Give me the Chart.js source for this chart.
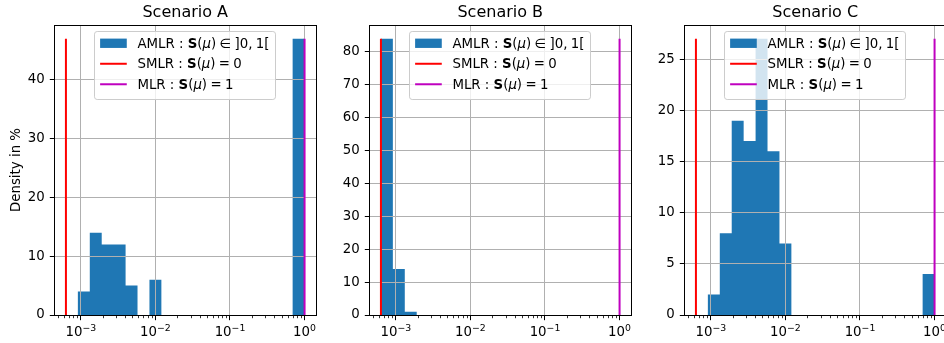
<!DOCTYPE html>
<html><head><meta charset="utf-8">
<script src="https://cdn.jsdelivr.net/npm/chart.js@4.4.1/dist/chart.umd.min.js"></script>
<style>
html,body{margin:0;padding:0;background:#fff;width:944px;height:343px;overflow:hidden;position:relative}
canvas{position:absolute;top:0}
</style></head><body>
<canvas id="cA" width="320" height="343" style="left:0px"></canvas>
<canvas id="cB" width="320" height="343" style="left:315px"></canvas>
<canvas id="cC" width="320" height="343" style="left:630px"></canvas>
<script>
// ---------- data ----------
const scenarioTitles = ['Scenario A', 'Scenario B', 'Scenario C'];
// log-spaced histogram bin edges (21 edges, 20 bins)
const binEdges = [6.310e-4, 9.120e-4, 1.318e-3, 1.905e-3, 2.754e-3, 3.981e-3, 5.754e-3, 8.318e-3,
  1.202e-2, 1.738e-2, 2.512e-2, 3.631e-2, 5.248e-2, 7.586e-2, 0.1096, 0.1585, 0.2291, 0.3311,
  0.4786, 0.6918, 1.0];
// density in % per bin
const densityA = [0, 4, 14, 12, 12, 5, 0, 6, 0, 0, 0, 0, 0, 0, 0, 0, 0, 0, 0, 47];
const densityB = [84, 14, 1, 0, 0, 0, 0, 0, 0, 0, 0, 0, 0, 0, 0, 0, 0, 0, 0, 0];
const densityC = [0, 2, 8, 19, 17, 27, 16, 7, 0, 0, 0, 0, 0, 0, 0, 0, 0, 0, 0, 4];
const smlrValue = 6.310e-4;   // SMLR : S(mu) = 0
const mlrValue = 1;           // MLR  : S(mu) = 1
const yTickSteps = [10, 10, 5];
const yAxisLabel = 'Density in %';
const legendAMLR = [['AMLR : ', 'n'], ['S', 'b'], ['(', 'n'], ['μ', 'i'], [')', 'n'], ['\u2005∈\u2005', 'n'], [']0,\u20051[', 'n']];
const legendSMLR = [['SMLR : ', 'n'], ['S', 'b'], ['(', 'n'], ['μ', 'i'], [')', 'n'], ['\u2005=\u20050', 'n']];
const legendMLR  = [['MLR : ', 'n'], ['S', 'b'], ['(', 'n'], ['μ', 'i'], [')', 'n'], ['\u2005=\u20051', 'n']];

// ---------- style ----------
const FS = 13.33;
const FAMILY = '"DejaVu Sans", "Liberation Sans", sans-serif';
const C_BLUE = '#1f77b4', C_RED = '#ff0000', C_MAG = '#bf00bf';

function fontFor(s, size) {
  size = size || FS;
  if (s === 'b') return 'bold ' + size + 'px ' + FAMILY;
  if (s === 'i') return 'italic ' + size + 'px ' + FAMILY;
  return size + 'px ' + FAMILY;
}
function richWidth(ctx, segs) {
  let w = 0;
  for (const [t, s] of segs) { ctx.font = fontFor(s); w += ctx.measureText(t).width; }
  return w;
}
function drawRich(ctx, segs, x, y) {
  for (const [t, s] of segs) { ctx.font = fontFor(s); ctx.fillText(t, x, y); x += ctx.measureText(t).width; }
}
const snap = v => Math.round(v - 0.5) + 0.5;

function decadesOf(scale) {
  const out = [];
  for (let d = Math.ceil(Math.log10(scale.min) - 1e-9); d <= Math.floor(Math.log10(scale.max) + 1e-9); d++) out.push(d);
  return out;
}

const mplPlugin = {
  id: 'mpl',
  afterDatasetDraw(chart, args) {
    if (args.index !== 0) return; // grid above the histogram, below the lines
    const {ctx, chartArea: ca, scales: {x, y}} = chart;
    ctx.save();
    ctx.strokeStyle = '#b0b0b0';
    ctx.lineWidth = 1;
    ctx.beginPath();
    for (const d of decadesOf(x)) {
      const px = snap(x.getPixelForValue(Math.pow(10, d)));
      ctx.moveTo(px, ca.top); ctx.lineTo(px, ca.bottom);
    }
    for (const t of y.ticks) {
      const py = snap(y.getPixelForValue(t.value));
      ctx.moveTo(ca.left, py); ctx.lineTo(ca.right, py);
    }
    ctx.stroke();
    ctx.restore();
  },
  afterDraw(chart, args, opts) {
    const {ctx, chartArea: ca, scales: {x, y}} = chart;
    ctx.save();
    // frame (spines)
    ctx.strokeStyle = '#000';
    ctx.lineWidth = 1;
    const L = snap(ca.left), R = snap(ca.right), T = snap(ca.top), B = snap(ca.bottom);
    ctx.strokeRect(L, T, R - L, B - T);
    // x ticks (major + minor)
    const d0 = Math.floor(Math.log10(x.min)), d1 = Math.ceil(Math.log10(x.max));
    for (let d = d0; d <= d1; d++) {
      for (let m = 1; m <= 9; m++) {
        const v = m * Math.pow(10, d);
        if (v < x.min || v > x.max) continue;
        const px = snap(x.getPixelForValue(v));
        ctx.beginPath();
        ctx.lineWidth = m === 1 ? 1 : 0.8;
        ctx.moveTo(px, B); ctx.lineTo(px, B + (m === 1 ? 4.7 : 2.7));
        ctx.stroke();
      }
    }
    // y ticks
    ctx.lineWidth = 1;
    for (const t of y.ticks) {
      const py = snap(y.getPixelForValue(t.value));
      ctx.beginPath(); ctx.moveTo(L, py); ctx.lineTo(L - 4.7, py); ctx.stroke();
    }
    // x tick labels 10^d
    ctx.fillStyle = '#000';
    ctx.textBaseline = 'alphabetic';
    ctx.textAlign = 'left';
    const base = B + 20.5;
    for (const d of decadesOf(x)) {
      const px = x.getPixelForValue(Math.pow(10, d));
      const ex = d < 0 ? '\u2212' + (-d) : String(d);
      ctx.font = fontFor('n'); const w1 = ctx.measureText('10').width;
      ctx.font = fontFor('n', FS * 0.7); const w2 = ctx.measureText(ex).width;
      const x0 = px - (w1 + w2) / 2;
      ctx.font = fontFor('n'); ctx.fillText('10', x0, base);
      ctx.font = fontFor('n', FS * 0.7); ctx.fillText(ex, x0 + w1, base - 4.8);
    }
    // title
    ctx.font = '16px ' + FAMILY;
    ctx.textAlign = 'center';
    ctx.fillText(opts.title, (ca.left + ca.right) / 2, ca.top - 7.7);
    // y label
    if (opts.yLabel) {
      ctx.save();
      ctx.translate(19.8, (ca.top + ca.bottom) / 2);
      ctx.rotate(-Math.PI / 2);
      ctx.font = fontFor('n');
      ctx.textAlign = 'center';
      ctx.fillText(opts.yLabel, 0, 0);
      ctx.restore();
    }
    // legend (upper center)
    const rows = [
      {kind: 'patch', color: C_BLUE, label: legendAMLR},
      {kind: 'line', color: C_RED, label: legendSMLR},
      {kind: 'line', color: C_MAG, label: legendMLR}
    ];
    const pad = 0.4 * FS, hl = 2 * FS, htp = 0.8 * FS;
    const maxW = Math.max(...rows.map(r => richWidth(ctx, r.label)));
    const w = pad + hl + htp + maxW + pad + 1;
    const h = 67.6;
    const lx = (ca.left + ca.right) / 2 - w / 2;
    const ly = ca.top + 0.5 * FS;
    ctx.beginPath();
    const rx = snap(lx), ry = snap(ly), rw = Math.round(w), rh = Math.round(h);
    if (ctx.roundRect) ctx.roundRect(rx, ry, rw, rh, 2.7); else ctx.rect(rx, ry, rw, rh);
    ctx.fillStyle = 'rgba(255,255,255,0.8)';
    ctx.fill();
    ctx.strokeStyle = '#cccccc';
    ctx.lineWidth = 1;
    ctx.stroke();
    const centers = [11.6, 32.1, 52.6];
    rows.forEach((r, i) => {
      const cy = ly + centers[i];
      const hx = lx + pad;
      if (r.kind === 'patch') {
        ctx.fillStyle = r.color;
        ctx.fillRect(hx, cy - 0.35 * FS, hl, 0.7 * FS);
      } else {
        ctx.strokeStyle = r.color;
        ctx.lineWidth = 2;
        ctx.beginPath(); ctx.moveTo(hx, cy); ctx.lineTo(hx + hl, cy); ctx.stroke();
      }
      ctx.fillStyle = '#000';
      ctx.textAlign = 'left';
      drawRich(ctx, r.label, hx + hl + htp, cy + 4.6);
    });
    ctx.restore();
  }
};

const panels = [
  {id: 'cA', title: scenarioTitles[0], density: densityA, step: yTickSteps[0], yLabel: yAxisLabel},
  {id: 'cB', title: scenarioTitles[1], density: densityB, step: yTickSteps[1], yLabel: null},
  {id: 'cC', title: scenarioTitles[2], density: densityC, step: yTickSteps[2], yLabel: null}
];

panels.forEach(p => {
  const hMax = Math.max(...p.density);
  const lo = Math.log10(smlrValue), hi = Math.log10(mlrValue);
  const mg = 0.05 * (hi - lo);
  const histPts = [{x: binEdges[0], y: 0}];
  p.density.forEach((d, i) => {
    histPts.push({x: binEdges[i], y: d});
    histPts.push({x: binEdges[i + 1], y: d});
  });
  histPts.push({x: binEdges[binEdges.length - 1], y: 0});

  new Chart(document.getElementById(p.id), {
    type: 'line',
    data: {
      datasets: [
        {label: 'AMLR', data: histPts, order: 3, borderWidth: 0, borderColor: 'rgba(0,0,0,0)',
          backgroundColor: C_BLUE, fill: 'origin', pointRadius: 0, tension: 0},
        {label: 'SMLR', data: [{x: smlrValue, y: 0}, {x: smlrValue, y: hMax}], order: 1,
          borderColor: C_RED, borderWidth: 2, pointRadius: 0, fill: false},
        {label: 'MLR', data: [{x: mlrValue, y: 0}, {x: mlrValue, y: hMax}], order: 1,
          borderColor: C_MAG, borderWidth: 2, pointRadius: 0, fill: false}
      ]
    },
    options: {
      responsive: false, animation: false, events: [],
      layout: {padding: {top: 25, right: 3.5, left: 0, bottom: 0}},
      plugins: {
        legend: {display: false}, tooltip: {enabled: false}, title: {display: false},
        mpl: {title: p.title, yLabel: p.yLabel}
      },
      scales: {
        x: {type: 'logarithmic', min: Math.pow(10, lo - mg), max: Math.pow(10, hi + mg),
          grid: {display: false, drawTicks: false}, border: {display: false},
          ticks: {display: false}, afterFit: s => { s.height = 28; }},
        y: {type: 'linear', min: 0, max: hMax * 1.05,
          grid: {display: false, drawTicks: false}, border: {display: false},
          ticks: {stepSize: p.step, includeBounds: false, color: '#000',
            font: {family: FAMILY, size: FS}, padding: 9.3},
          afterFit: s => { s.width = 54; }}
      }
    },
    plugins: [mplPlugin]
  });
});
</script>
</body></html>
